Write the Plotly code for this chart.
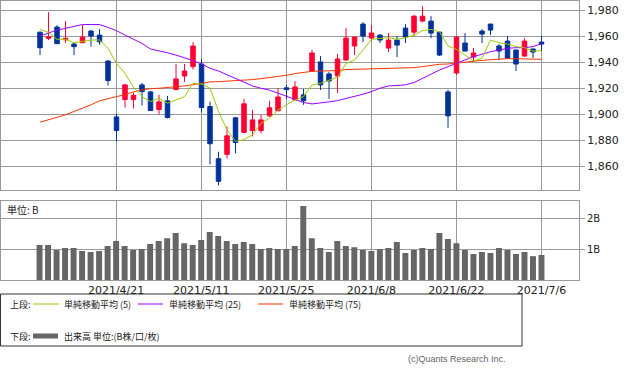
import plotly.graph_objects as go

W, H = 633, 371

dates = ["2021/4/8", "2021/4/9", "2021/4/12", "2021/4/13", "2021/4/14", "2021/4/15", "2021/4/16",
         "2021/4/19", "2021/4/20", "2021/4/21", "2021/4/22", "2021/4/23", "2021/4/26", "2021/4/27",
         "2021/4/28", "2021/4/30", "2021/5/6", "2021/5/7", "2021/5/10", "2021/5/11", "2021/5/12",
         "2021/5/13", "2021/5/14", "2021/5/17", "2021/5/18", "2021/5/19", "2021/5/20", "2021/5/21",
         "2021/5/24", "2021/5/25", "2021/5/26", "2021/5/27", "2021/5/28", "2021/5/31", "2021/6/1",
         "2021/6/2", "2021/6/3", "2021/6/4", "2021/6/7", "2021/6/8", "2021/6/9", "2021/6/10",
         "2021/6/11", "2021/6/14", "2021/6/15", "2021/6/16", "2021/6/17", "2021/6/18", "2021/6/21",
         "2021/6/22", "2021/6/23", "2021/6/24", "2021/6/25", "2021/6/28", "2021/6/29", "2021/6/30",
         "2021/7/1", "2021/7/2", "2021/7/5", "2021/7/6"]

opens = [1963.3, 1958.5, 1967.2, 1957.4, 1954.1, 1955.1, 1964.1, 1961.0, 1941.0, 1897.9,
         1911.3, 1911.3, 1922.6, 1917.2, 1903.6, 1910.3, 1919.0, 1929.5, 1936.7, 1938.7,
         1905.9, 1865.6, 1869.0, 1897.2, 1885.9, 1887.4, 1887.4, 1898.7, 1902.6, 1920.3,
         1911.0, 1914.9, 1933.3, 1940.3, 1931.0, 1929.5, 1941.8, 1952.6, 1969.5, 1958.7,
         1961.0, 1951.0, 1957.2, 1966.4, 1963.3, 1971.8, 1971.8, 1963.3, 1917.2, 1931.8,
         1954.9, 1944.1, 1964.1, 1969.5, 1952.6, 1956.4, 1949.5, 1944.9, 1950.3, 1955.6]
highs = [1963.5, 1978.7, 1968.7, 1971.8, 1955.0, 1968.7, 1964.9, 1965.6, 1941.5, 1900.3,
         1923.3, 1916.7, 1924.1, 1917.9, 1914.9, 1914.1, 1938.7, 1938.7, 1955.6, 1942.6,
         1909.7, 1871.0, 1890.5, 1897.9, 1911.8, 1903.3, 1899.5, 1910.3, 1920.3, 1922.6,
         1925.6, 1919.5, 1949.5, 1944.9, 1932.6, 1946.4, 1966.4, 1959.8, 1971.0, 1968.7,
         1961.8, 1962.6, 1960.3, 1969.5, 1976.4, 1983.3, 1975.6, 1963.5, 1918.7, 1960.3,
         1962.6, 1951.0, 1965.6, 1969.7, 1954.1, 1960.3, 1949.7, 1958.7, 1950.5, 1960.3]
lows = [1945.6, 1957.2, 1954.2, 1955.1, 1945.6, 1955.0, 1952.1, 1953.6, 1922.1, 1879.0,
        1905.1, 1904.4, 1906.7, 1902.5, 1899.7, 1896.7, 1918.8, 1924.9, 1934.4, 1901.3,
        1861.3, 1845.1, 1865.9, 1869.7, 1885.7, 1882.8, 1885.1, 1897.9, 1902.4, 1911.8,
        1910.8, 1907.2, 1933.1, 1918.7, 1911.8, 1916.4, 1941.6, 1945.6, 1955.6, 1957.0,
        1954.9, 1947.9, 1944.1, 1954.9, 1960.3, 1971.0, 1958.7, 1944.9, 1889.5, 1930.3,
        1948.5, 1940.3, 1954.9, 1961.0, 1941.8, 1942.6, 1933.3, 1944.1, 1943.3, 1948.7]
closes = [1951.3, 1959.7, 1954.4, 1958.5, 1952.1, 1959.5, 1960.3, 1955.9, 1925.9, 1887.4,
          1922.6, 1914.6, 1917.4, 1902.8, 1909.5, 1897.4, 1927.2, 1933.3, 1952.6, 1905.1,
          1877.2, 1848.2, 1883.3, 1878.2, 1908.0, 1895.6, 1895.6, 1904.9, 1913.3, 1919.0,
          1921.0, 1910.3, 1947.2, 1922.6, 1925.6, 1942.6, 1958.7, 1959.5, 1960.3, 1962.6,
          1957.2, 1957.2, 1953.3, 1959.5, 1975.6, 1975.6, 1962.6, 1945.6, 1898.7, 1959.5,
          1948.7, 1947.2, 1961.8, 1964.9, 1948.7, 1943.3, 1938.7, 1956.4, 1947.9, 1954.1]

ma5 = [1965.4, 1963.1, 1957.7, 1957.7, 1955.1, 1956.2, 1957.2, 1957.2, 1950.8, 1939.2,
       1931.5, 1920.8, 1913.6, 1909.7, 1912.3, 1908.5, 1911.0, 1913.6, 1923.8, 1923.3,
       1920.0, 1902.1, 1887.9, 1879.0, 1880.3, 1884.1, 1893.1, 1896.9, 1903.3, 1907.2,
       1911.0, 1913.6, 1922.6, 1923.8, 1926.4, 1928.5, 1939.2, 1941.8, 1949.5, 1957.7,
       1958.5, 1959.0, 1957.7, 1959.0, 1961.0, 1964.4, 1965.4, 1963.6, 1952.6, 1950.0,
       1945.6, 1941.0, 1943.1, 1957.2, 1955.1, 1954.1, 1952.1, 1951.3, 1948.7, 1949.0]
ma25 = [1960.3, 1962.8, 1964.9, 1966.2, 1967.9, 1969.2, 1969.2, 1969.2, 1966.9, 1964.4,
        1961.0, 1957.7, 1954.6, 1950.3, 1949.0, 1947.4, 1945.6, 1943.6, 1941.3, 1938.7,
        1935.4, 1933.3, 1930.3, 1927.2, 1924.4, 1921.8, 1920.0, 1918.5, 1916.2, 1913.6,
        1911.0, 1909.0, 1907.9, 1908.5, 1909.5, 1910.5, 1912.1, 1913.6, 1915.4, 1917.4,
        1920.0, 1921.8, 1922.1, 1922.6, 1924.4, 1927.7, 1931.0, 1934.1, 1936.7, 1939.2,
        1941.8, 1944.4, 1946.2, 1948.2, 1949.5, 1950.8, 1951.3, 1951.3, 1952.1, 1954.4]
ma75 = [1893.8, 1895.6, 1897.7, 1899.5, 1902.1, 1904.6, 1907.2, 1910.3, 1912.1, 1913.6,
        1914.9, 1917.2, 1918.7, 1919.7, 1920.0, 1920.5, 1921.0, 1921.8, 1922.8, 1923.8,
        1924.9, 1925.1, 1925.4, 1925.6, 1926.2, 1926.7, 1927.4, 1928.2, 1929.0, 1930.0,
        1931.3, 1932.1, 1933.1, 1933.3, 1933.3, 1933.6, 1934.4, 1934.6, 1934.6, 1934.6,
        1934.9, 1934.9, 1935.1, 1935.6, 1935.9, 1936.7, 1937.7, 1938.5, 1938.7, 1939.5,
        1940.3, 1940.8, 1941.5, 1942.1, 1942.6, 1942.8, 1942.8, 1942.8, 1942.6, 1942.3]

volume_b = [1.13, 1.13, 0.97, 1.03, 1.03, 0.94, 0.90, 0.94, 1.10, 1.26,
            1.10, 0.97, 1.00, 1.16, 1.26, 1.35, 1.52, 1.19, 1.13, 1.29,
            1.55, 1.42, 1.26, 1.16, 1.23, 1.16, 1.00, 1.03, 1.00, 1.00,
            1.10, 2.39, 1.35, 1.03, 0.90, 1.26, 1.10, 1.06, 0.97, 0.94,
            1.00, 1.03, 1.23, 0.87, 0.97, 1.03, 1.00, 1.52, 1.32, 1.19,
            0.97, 0.84, 0.90, 0.87, 1.03, 0.97, 0.84, 0.90, 0.77, 0.81]

tick_dates = ["2021/4/21", "2021/5/11", "2021/5/25", "2021/6/8", "2021/6/22", "2021/7/6"]
price_ticks = [1860, 1880, 1900, 1920, 1940, 1960, 1980]
price_ticktext = ["1,860", "1,880", "1,900", "1,920", "1,940", "1,960", "1,980"]
vol_ticks = [1, 2]
vol_ticktext = ["1B", "2B"]

legend_labels = ["単純移動平均 (5)", "単純移動平均 (25)", "単純移動平均 (75)"]
colors = {"up": "#FF0033", "down": "#003399", "ma5": "#99CC00", "ma25": "#9900FF",
          "ma75": "#FF3300", "vol": "#666666", "grid": "#999999"}

def px(x):
    return x / W

def py(y):
    return 1 - y / H

fig = go.Figure()

fig.add_trace(go.Scatter(x=dates, y=ma75, mode="lines", line=dict(color=colors["ma75"], width=1),
                         xaxis="x", yaxis="y", showlegend=False, hoverinfo="skip"))
fig.add_trace(go.Scatter(x=dates, y=ma25, mode="lines", line=dict(color=colors["ma25"], width=1),
                         xaxis="x", yaxis="y", showlegend=False, hoverinfo="skip"))
fig.add_trace(go.Scatter(x=dates, y=ma5, mode="lines", line=dict(color=colors["ma5"], width=1),
                         xaxis="x", yaxis="y", showlegend=False, hoverinfo="skip"))
fig.add_trace(go.Candlestick(x=dates, open=opens, high=highs, low=lows, close=closes,
                             increasing=dict(line=dict(color=colors["up"], width=1),
                                             fillcolor=colors["up"]),
                             decreasing=dict(line=dict(color=colors["down"], width=1),
                                             fillcolor=colors["down"]),
                             whiskerwidth=0, xaxis="x", yaxis="y", showlegend=False))
fig.add_trace(go.Bar(x=dates, y=volume_b, marker=dict(color=colors["vol"], line=dict(width=0)),
                     width=0.7, xaxis="x2", yaxis="y2", showlegend=False))

xr = [-4.59, 63.41]
axis_common = dict(showline=True, mirror=True, linecolor=colors["grid"], linewidth=1,
                   gridcolor=colors["grid"], gridwidth=1, zeroline=False)

fig.update_layout(
    width=W, height=H,
    margin=dict(l=0, r=0, t=0, b=0),
    paper_bgcolor="white", plot_bgcolor="white",
    font=dict(family="DejaVu Sans", size=11, color="#222222"),
    boxgap=0.25,
    xaxis=dict(domain=[px(1), px(579)], type="category", range=xr, anchor="y",
               tickvals=tick_dates, ticktext=[""] * len(tick_dates), showticklabels=False,
               rangeslider=dict(visible=False), **axis_common),
    yaxis=dict(domain=[py(190), py(0.5)], range=[1841.5, 1987.7], side="right", anchor="x",
               tickvals=price_ticks, ticktext=price_ticktext, ticks="outside", ticklen=5,
               tickcolor=colors["grid"], **axis_common),
    xaxis2=dict(domain=[px(0.5), px(579)], type="category", range=xr, anchor="y2",
                tickvals=tick_dates, ticktext=tick_dates, ticks="", **axis_common),
    yaxis2=dict(domain=[py(280), py(201)], range=[0, 2.55], side="right", anchor="x2",
                tickvals=vol_ticks, ticktext=vol_ticktext, ticks="outside", ticklen=5,
                tickcolor=colors["grid"], tickfont=dict(size=10), **axis_common),
)

shapes = []
annotations = []
cjk = "Noto Sans CJK JP"

# legend box
shapes.append(dict(type="rect", xref="paper", yref="paper", x0=px(0.5), x1=px(522),
                   y0=py(346), y1=py(294), line=dict(color="#333333", width=1)))
annotations.append(dict(xref="paper", yref="paper", x=px(8), y=py(304), text="上段:",
                        showarrow=False, xanchor="left", yanchor="middle",
                        font=dict(family=cjk, size=9, color="#222")))
leg_x = [(33, 59, 62), (138, 163, 167), (258, 283, 287)]
for (a, b, t), lab, key in zip(leg_x, legend_labels, ["ma5", "ma25", "ma75"]):
    shapes.append(dict(type="line", xref="paper", yref="paper", x0=px(a), x1=px(b),
                       y0=py(304), y1=py(304), line=dict(color=colors[key], width=1)))
    annotations.append(dict(xref="paper", yref="paper", x=px(t), y=py(304), text=lab,
                            showarrow=False, xanchor="left", yanchor="middle",
                            font=dict(family=cjk, size=9, color="#222")))
annotations.append(dict(xref="paper", yref="paper", x=px(8), y=py(336), text="下段:",
                        showarrow=False, xanchor="left", yanchor="middle",
                        font=dict(family=cjk, size=9, color="#222")))
shapes.append(dict(type="line", xref="paper", yref="paper", x0=px(33), x1=px(58),
                   y0=py(336), y1=py(336), line=dict(color=colors["vol"], width=5)))
annotations.append(dict(xref="paper", yref="paper", x=px(62), y=py(336),
                        text="出来高 単位:(B株/口/枚)", showarrow=False, xanchor="left",
                        yanchor="middle", font=dict(family=cjk, size=9, color="#222")))
annotations.append(dict(xref="paper", yref="paper", x=px(5), y=py(209), text="単位: B",
                        showarrow=False, xanchor="left", yanchor="middle",
                        font=dict(family=cjk, size=10, color="#222")))
annotations.append(dict(xref="paper", yref="paper", x=px(508), y=py(359),
                        text="(c)Quants Research Inc.", showarrow=False, xanchor="right",
                        yanchor="middle",
                        font=dict(family="Liberation Sans", size=9, color="#666666")))

fig.update_layout(shapes=shapes, annotations=annotations)

fig.write_html("out.html", config={"displayModeBar": False},
               post_script="document.body.style.margin='0';document.body.style.padding='0';"
                           "document.body.style.overflow='hidden';")
